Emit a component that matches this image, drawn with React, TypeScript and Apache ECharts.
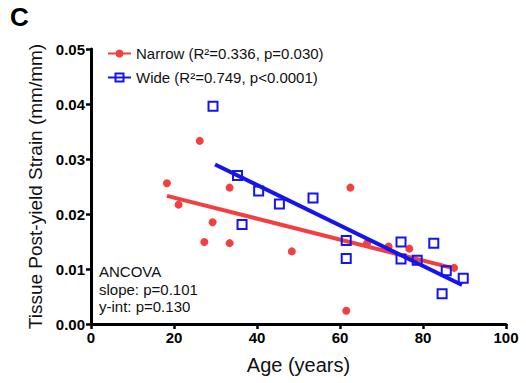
import React, { useEffect, useRef } from "react";
import * as echarts from "echarts";

const narrowAge = [18.3, 21.1, 26.2, 27.3, 29.3, 33.4, 33.4, 48.4, 61.5, 62.5, 66.5, 71.7, 76.7, 87.5];
const narrowStrain = [0.0256, 0.0217, 0.0333, 0.0149, 0.0185, 0.0248, 0.0147, 0.0132, 0.0024, 0.0248, 0.0147, 0.0141, 0.0137, 0.0102];
const wideAge = [29.4, 35.3, 36.4, 40.4, 45.4, 53.5, 61.5, 61.5, 74.7, 74.7, 78.6, 82.6, 84.6, 85.6, 89.7];
const wideStrain = [0.0396, 0.027, 0.0181, 0.0242, 0.0218, 0.0229, 0.0152, 0.0119, 0.0149, 0.0118, 0.0116, 0.0147, 0.0055, 0.0097, 0.0083];
const narrowFitAge = [18.3, 87.0];
const narrowFitStrain = [0.0233, 0.0102];
const wideFitAge = [29.9, 89.4];
const wideFitStrain = [0.029, 0.0071];
const legendNames = ["Narrow", "Wide"];
const legendLabels = ["Narrow (R\u00b2=0.336, p=0.030)", "Wide (R\u00b2=0.749, p<0.0001)"];
const ancovaLines = ["ANCOVA", "slope: p=0.101", "y-int: p=0.130"];

const RED = "#f24040";
const BLUE = "#1414f0";
const FONT = "Liberation Sans, Arial, sans-serif";

const zip = (a: number[], b: number[]) => a.map((v, i) => [v, b[i]]);

export default function App() {
  const ref = useRef<HTMLDivElement>(null);
  useEffect(() => {
    if (!ref.current) return;
    const chart = echarts.init(ref.current, null, { renderer: "svg" });
    chart.setOption({
      animation: false,
      backgroundColor: "#fff",
      textStyle: { fontFamily: FONT },
      grid: { left: 91, right: 20, top: 49, bottom: 59, containLabel: false },
      legend: {
        data: legendNames,
        left: 102,
        top: 41,
        orient: "vertical",
        itemWidth: 23,
        itemHeight: 10,
        itemGap: 9,
        textStyle: { fontFamily: FONT, fontSize: 15, color: "#111" },
        formatter: (n: string) => legendLabels[legendNames.indexOf(n)],
      },
      xAxis: {
        type: "value",
        min: 0,
        max: 100,
        interval: 20,
        name: "Age (years)",
        nameLocation: "middle",
        nameGap: 31,
        nameTextStyle: { fontSize: 20, color: "#111", fontFamily: FONT },
        axisLine: { show: true, lineStyle: { color: "#000", width: 3 } },
        axisTick: { show: true, length: 5, lineStyle: { color: "#000", width: 2.5 } },
        axisLabel: { fontSize: 15, fontWeight: "bold", color: "#000", margin: 6, fontFamily: FONT },
        splitLine: { show: false },
      },
      yAxis: {
        type: "value",
        min: 0,
        max: 0.05,
        interval: 0.01,
        name: "Tissue Post-yield Strain (mm/mm)",
        nameLocation: "middle",
        nameRotate: 90,
        nameGap: 42,
        nameTextStyle: { fontSize: 19, color: "#111", fontFamily: FONT },
        axisLine: { show: true, lineStyle: { color: "#000", width: 3 } },
        axisTick: { show: true, length: 5, lineStyle: { color: "#000", width: 2.5 } },
        axisLabel: {
          fontSize: 15,
          fontWeight: "bold",
          color: "#000",
          margin: 6,
          fontFamily: FONT,
          formatter: (v: number) => v.toFixed(2),
        },
        splitLine: { show: false },
      },
      series: [
        {
          name: "Narrow",
          type: "line",
          data: zip(narrowFitAge, narrowFitStrain),
          symbol: "circle",
          symbolSize: 8,
          showSymbol: false,
          lineStyle: { color: RED, width: 4 },
          itemStyle: { color: RED },
          z: 3,
        },
        {
          name: "Wide",
          type: "line",
          data: zip(wideFitAge, wideFitStrain),
          symbol: "rect",
          symbolSize: 10,
          showSymbol: false,
          lineStyle: { color: BLUE, width: 4 },
          itemStyle: { color: "rgba(255,255,255,0)", borderColor: BLUE, borderWidth: 2 },
          z: 4,
        },
        {
          name: "NarrowPts",
          type: "scatter",
          data: zip(narrowAge, narrowStrain),
          symbol: "circle",
          symbolSize: 8,
          itemStyle: { color: RED, opacity: 1 },
          z: 2,
        },
        {
          name: "WidePts",
          type: "scatter",
          data: zip(wideAge, wideStrain),
          symbol: "rect",
          symbolSize: 9,
          itemStyle: { color: "rgba(255,255,255,0)", borderColor: BLUE, borderWidth: 2, opacity: 1 },
          z: 5,
        },
      ],
      graphic: [
        {
          type: "text",
          left: 10,
          top: 4,
          style: { text: "C", fontSize: 26, fontWeight: "bold", fill: "#000", fontFamily: FONT },
        },
        {
          type: "text",
          left: 99,
          top: 263,
          style: {
            text: ancovaLines.join("\n"),
            fontSize: 15,
            lineHeight: 17.5,
            fill: "#111",
            fontFamily: FONT,
          },
        },
      ],
    });
    return () => chart.dispose();
  }, []);
  return <div ref={ref} style={{ width: 526, height: 383, position: "absolute", left: 0, top: 0 }} />;
}
